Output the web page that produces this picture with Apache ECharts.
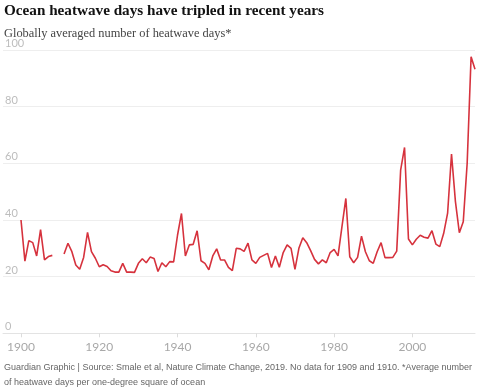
<!DOCTYPE html>
<html><head><meta charset="utf-8">
<script src="https://cdn.jsdelivr.net/npm/echarts@6/dist/echarts.min.js"></script>
<style>html,body{margin:0;padding:0;background:#fff}#c{width:480px;height:390px}</style>
</head><body><div id="c"></div>
<script>
const titleText = 'Ocean heatwave days have tripled in recent years';
const subtitleText = 'Globally averaged number of heatwave days*';
const footLine1 = 'Guardian Graphic | Source: Smale et al, Nature Climate Change, 2019. No data for 1909 and 1910. *Average number';
const footLine2 = 'of heatwave days per one-degree square of ocean';
const xTicks = [1900, 1920, 1940, 1960, 1980, 2000];
const yTicks = [0, 20, 40, 60, 80, 100];
const years = [];
for (let y = 1900; y <= 2016; y++) years.push(y);
const heatwaveDays = [
  40, 25.5, 32.7, 32, 27.3, 36.6, 25.9, 27.1, 27.5, null,
  null, 28, 31.8, 28.8, 24.1, 22.6, 26.8, 35.6, 28.8, 26.5,
  23.5, 24.2, 23.6, 22.1, 21.6, 21.6, 24.7, 21.6, 21.6, 21.5,
  24.7, 26.3, 24.9, 26.9, 26.4, 21.8, 24.9, 23.5, 25.3, 25.2,
  34.7, 42.3, 27.3, 31.2, 31.4, 36.2, 25.6, 24.7, 22.4, 27.3,
  29.8, 25.9, 25.9, 23.3, 22.1, 30, 29.8, 28.9, 31.8, 25.9,
  24.7, 26.8, 27.5, 28.2, 23.2, 27.3, 23.3, 28.5, 31.2, 30,
  22.6, 30, 33.7, 32, 29.2, 26.1, 24.5, 25.9, 24.9, 28.5,
  29.6, 27.3, 37.6, 47.6, 27, 24.9, 26.8, 34.3, 28.8, 25.6,
  24.7, 28.8, 32, 26.7, 26.7, 26.8, 29, 57.6, 65.6, 33.3,
  31.2, 33.2, 34.6, 33.9, 33.6, 36.2, 31.5, 30.6, 35.3, 42.4,
  63.3, 46.5, 35.5, 39.4, 60, 97.6, 93.2
];
const lineData = years.map((y, i) => [y, heatwaveDays[i]]);

const chart = echarts.init(document.getElementById('c'), null, {renderer: 'canvas'});
chart.setOption({
  animation: false,
  backgroundColor: '#fff',
  grid: {left: 3, right: 5, top: 50, bottom: 56.7, containLabel: false},
  xAxis: {
    type: 'value', min: 1895.4, max: 2016,
    splitLine: {show: false},
    axisLine: {show: true, onZero: false, lineStyle: {color: '#e3e3e3', width: 1}},
    axisTick: {show: true, customValues: xTicks, length: 4, lineStyle: {color: '#dcdcdc'}},
    axisLabel: {customValues: xTicks, color: '#a8a8a8', fontSize: 12, fontFamily: 'Lato, "Liberation Sans", sans-serif', margin: 8,
      formatter: v => String(v)}
  },
  yAxis: {
    type: 'value', min: 0, max: 100, interval: 20,
    axisLine: {show: false}, axisTick: {show: false},
    splitLine: {lineStyle: {color: '#eeeeee', width: 1}},
    axisLabel: {inside: true, margin: 2, verticalAlign: 'bottom', color: '#bdbdbd', fontSize: 11,
      fontFamily: 'Lato, "Liberation Sans", sans-serif', formatter: v => String(v),
      padding: [0, 0, 1, 0]}
  },
  series: [{
    type: 'line', data: lineData, showSymbol: false, connectNulls: false,
    lineStyle: {color: '#d6323d', width: 1.6}, z: 5
  }],
  graphic: [
    {type: 'text', left: 4, top: 4, style: {text: titleText, fill: '#121212', font: 'bold 15.2px "Liberation Serif", serif'}},
    {type: 'text', left: 4, top: 28, style: {text: subtitleText, fill: '#444', font: '12.4px "Liberation Serif", serif'}},
    {type: 'text', left: 4, top: 363, style: {text: footLine1, fill: '#666', font: '9px "Liberation Sans", sans-serif'}},
    {type: 'text', left: 4, top: 378, style: {text: footLine2, fill: '#666', font: '9px "Liberation Sans", sans-serif'}}
  ]
});
</script></body></html>
